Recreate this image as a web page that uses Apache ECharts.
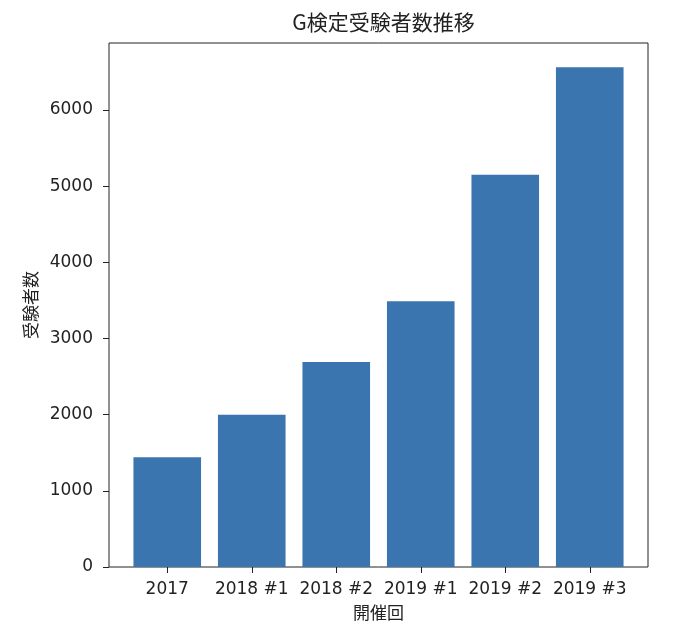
<!DOCTYPE html>
<html>
<head>
<meta charset="utf-8">
<script src="https://cdn.jsdelivr.net/npm/echarts@6/dist/echarts.min.js"></script>
<style>
  html, body { margin: 0; padding: 0; background: #fff; }
  #chart { width: 680px; height: 642px; }
</style>
</head>
<body>
<div id="chart"></div>
<script>
// data
const categories = ['2017', '2018 #1', '2018 #2', '2019 #1', '2019 #2', '2019 #3']
const examinees = [1440, 2000, 2690, 3490, 5150, 6560]
const yTicks = [0, 1000, 2000, 3000, 4000, 5000, 6000]

const jpFont = '"Noto Sans CJK JP", sans-serif'
const numFont = '"DejaVu Sans", "Noto Sans CJK JP", sans-serif'
const textColor = '#222222'
// outer frame (matplotlib axes box)
const frame = { left: 109, right: 32, top: 43, bottom: 75 }
const inset = 16 // extra margin either side of first/last band

const chart = echarts.init(document.getElementById('chart'), null, { renderer: 'canvas' })

chart.setOption({
  animation: false,
  backgroundColor: '#ffffff',
  title: {
    text: 'G検定受験者数推移',
    left: frame.left + (680 - frame.left - frame.right) / 2,
    textAlign: 'center',
    top: 7,
    textStyle: { fontFamily: jpFont, fontSize: 21, fontWeight: 'normal', color: textColor }
  },
  grid: [
    // frame only
    { left: frame.left, right: frame.right, top: frame.top, bottom: frame.bottom,
      show: true, borderColor: '#222', borderWidth: 1, backgroundColor: 'transparent' },
    // bars
    { left: frame.left + inset, right: frame.right + inset, top: frame.top, bottom: frame.bottom }
  ],
  xAxis: [
    { gridIndex: 0, type: 'value', show: false, min: 0, max: 1 },
    {
      gridIndex: 1,
      type: 'category',
      data: categories,
      name: '開催回',
      nameLocation: 'middle',
      nameGap: 37,
      nameTextStyle: { fontFamily: jpFont, fontSize: 17, color: textColor },
      axisLine: { show: false },
      axisTick: { show: true, alignWithLabel: true, length: 6, lineStyle: { color: '#222' } },
      axisLabel: { fontFamily: numFont, fontSize: 17, color: textColor, margin: 14, interval: 0 },
      splitLine: { show: false }
    }
  ],
  yAxis: [
    { gridIndex: 0, type: 'value', show: false, min: 0, max: 1 },
    {
      gridIndex: 1,
      type: 'value',
      min: 0,
      max: 6880,
      offset: inset,
      name: '受験者数',
      nameLocation: 'middle',
      nameGap: 70,
      nameRotate: 90,
      nameTextStyle: { fontFamily: jpFont, fontSize: 17, color: textColor },
      axisLine: { show: false },
      axisTick: { show: true, length: 6, customValues: yTicks, lineStyle: { color: '#222' } },
      axisLabel: {
        fontFamily: numFont, fontSize: 17, color: textColor, margin: 16,
        customValues: yTicks,
        formatter: v => String(v)
      },
      splitLine: { show: false }
    }
  ],
  series: [{
    type: 'bar',
    xAxisIndex: 1,
    yAxisIndex: 1,
    data: examinees,
    barWidth: '80%',
    itemStyle: { color: '#3b75af' }
  }]
})
</script>
</body>
</html>
